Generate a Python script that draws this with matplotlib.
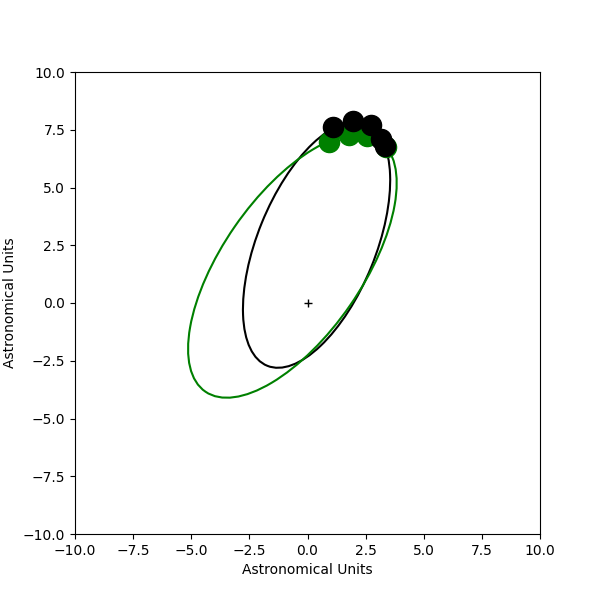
import matplotlib
matplotlib.use("Agg")
import matplotlib.pyplot as plt
from matplotlib.patches import Ellipse

# orbit ellipses: centre x, centre y, semi-major, semi-minor, tilt (deg)
orbit_names = ["black", "green"]
orbit_cx = [0.39, -0.65]
orbit_cy = [2.52, 1.60]
orbit_a = [5.65, 6.60]
orbit_b = [2.54, 3.01]
orbit_tilt = [68.0, 55.5]

# body positions near the top of the orbits
green_x = [0.94, 1.78, 2.56, 3.38]
green_y = [6.98, 7.27, 7.21, 6.75]
black_x = [1.11, 1.97, 2.72, 3.16, 3.33]
black_y = [7.63, 7.89, 7.71, 7.10, 6.80]

fig = plt.figure(figsize=(6, 6), dpi=100)
ax = fig.add_subplot(111)

for name, cx, cy, a, b, t in zip(orbit_names, orbit_cx, orbit_cy, orbit_a, orbit_b, orbit_tilt):
	ax.add_patch(Ellipse((cx, cy), 2 * a, 2 * b, angle=t, fill=False, edgecolor=name, linewidth=1.5))

ax.plot(0, 0, 'k+')
ax.plot(green_x, green_y, 'o', color='green', markersize=14.5)
ax.plot(black_x, black_y, 'o', color='black', markersize=14.5)

ax.set_xlim(-10, 10)
ax.set_ylim(-10, 10)
ax.set_xlabel("Astronomical Units")
ax.set_ylabel("Astronomical Units")

fig.savefig("out.png")
